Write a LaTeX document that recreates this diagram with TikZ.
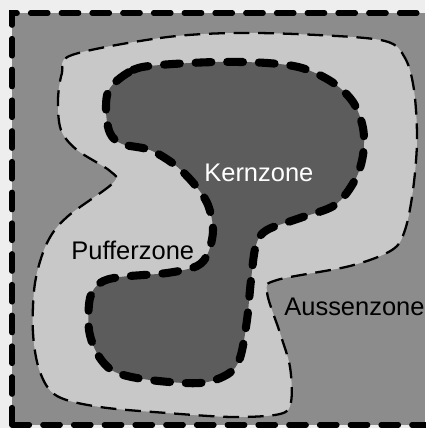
\documentclass[tikz,border=0pt]{standalone}
\usepackage{fontspec}
\setmainfont{Liberation Sans}
\definecolor{paper}{RGB}{238,238,238}
\definecolor{outerzone}{RGB}{140,140,140}
\definecolor{bufferzone}{RGB}{200,200,200}
\definecolor{corezone}{RGB}{92,92,92}
\begin{document}
\begin{tikzpicture}[
  x=0.02cm, y=-0.02cm,
  font=\fontsize{14.5}{17}\selectfont,
  % zone outlines
  outerline/.style={
    draw=black,
    line width=2.9pt,
    line cap=round,
    dash pattern=on 10pt off 7.5pt
  },
  bufferline/.style={
    draw=black,
    line width=1.3pt,
    dash pattern=on 9pt off 5pt
  },
  coreline/.style={
    draw=black,
    line width=4.6pt,
    line cap=round,
    dash pattern=on 9pt off 9pt
  },
  zonelabel/.style={
    inner sep=0pt,
    anchor=west
  }
]

% -----------------------------------------------
% FRAME AND OUTER ZONE
% -----------------------------------------------
\fill[paper] (0,0) rectangle (425,428);
\useasboundingbox (0,0) rectangle (425,428);
\fill[outerzone] (12,13) rectangle (425,425);
\draw[outerline] (12,425) -- (12,13) -- (440,13);
\draw[outerline] (12,425) -- (440,425);

% -----------------------------------------------
% BUFFER ZONE
% -----------------------------------------------
\filldraw[fill=bufferzone, bufferline] plot[smooth cycle, tension=0.55] coordinates {
  (72,55) (160,38) (233,33) (317,35) (385,41) (405,58) (414,90)
  (417,140) (413,190) (405,230) (392,250) (350,266) (277,280)
  (267,292) (280,333) (290,367) (291,402) (280,414) (233,417)
  (167,413) (100,407) (57,396) (40,372) (33,333) (35,283)
  (47,243) (67,217) (113,183) (110,171) (77,150) (61,130)
  (58,100) (62,73)
};

% -----------------------------------------------
% CORE ZONE
% -----------------------------------------------
\filldraw[fill=corezone, coreline] plot[smooth cycle, tension=0.55] coordinates {
  (110,88) (133,70) (160,65) (217,62) (267,63) (302,68)
  (332,82) (353,102) (363,128) (363,155) (355,180) (335,205)
  (300,218) (267,230) (256,245) (251,280) (247,320) (240,358)
  (228,374) (200,383) (150,380) (115,372) (98,355) (89,330)
  (90,298) (100,283) (120,277) (167,273) (197,266) (208,253)
  (213,230) (208,205) (195,185) (175,165) (150,150) (122,144)
  (110,133) (106,110)
};

% -----------------------------------------------
% LABELS
% -----------------------------------------------
\node[zonelabel, text=white] (kernLabel) at (204,173) {Kernzone};
\node[zonelabel] (pufferLabel) at (71,250) {Pufferzone};
\node[zonelabel] (aussenLabel) at (284,307) {Aussenzone};

\end{tikzpicture}
\end{document}
